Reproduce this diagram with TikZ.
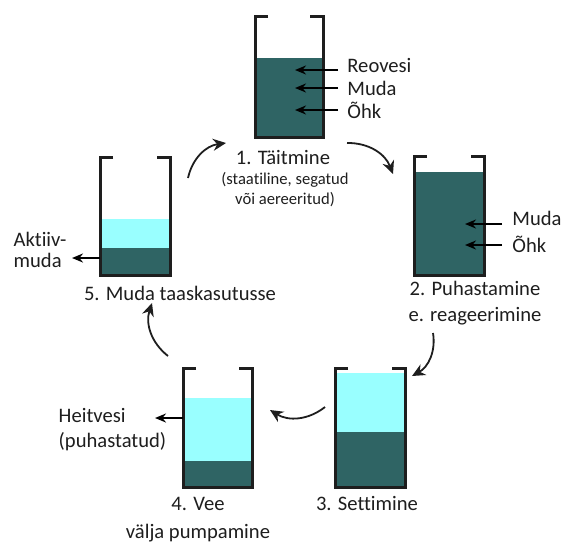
\documentclass[tikz,border=0pt]{standalone}
\usepackage{fontspec}
\setmainfont{Carlito}[Ligatures=NoCommon]
\usetikzlibrary{arrows.meta,positioning}
\definecolor{mudcol}{HTML}{2F6464}
\definecolor{watercol}{HTML}{99FFFF}
\definecolor{inkcol}{HTML}{1E1E1E}

\begin{document}
\begin{tikzpicture}[
  x=0.5pt,
  y=-0.5pt,
  font=\fontsize{10.3}{13}\selectfont,
  text=inkcol,
  wall/.style={line width=1.5pt, draw=inkcol, line join=miter},
  mud/.style={fill=mudcol},
  water/.style={fill=watercol},
  lbl/.style={inner sep=1.5pt, anchor=base west},
  stage/.style={align=center, inner sep=1pt},
  ptr/.style={-{Stealth[length=5.5pt,width=4.5pt]}, line width=1.2pt, draw=black},
  cyc/.style={-{Stealth[length=6.5pt,width=6pt]}, line width=0.9pt, draw=inkcol, bend left=35}
]
\useasboundingbox (0,0) rectangle (565,542);

% Tancul 1 - umplere (sus)
\fill[mud] (255,58) rectangle (323,137);
\draw[wall] (268,16) -- (255,16) -- (255,137) -- (323,137) -- (323,16) -- (310,16);

% Tancul 2 - aerare (dreapta)
\fill[mud] (414,172) rectangle (484,275);
\draw[wall] (427,156) -- (414,156) -- (414,275) -- (484,275) -- (484,156) -- (471,156);

% Tancul 3 - decantare (jos dreapta)
\fill[water] (335,373) rectangle (405,432);
\fill[mud] (335,432) rectangle (405,487);
\draw[wall] (348,368) -- (335,368) -- (335,487) -- (405,487) -- (405,368) -- (392,368);

% Tancul 4 - evacuare apa (jos stanga)
\fill[water] (183,398) rectangle (252,461);
\fill[mud] (183,461) rectangle (252,487);
\draw[wall] (196,368) -- (183,368) -- (183,487) -- (252,487) -- (252,368) -- (239,368);

% Tancul 5 - namol recirculat (stanga)
\fill[water] (100,219) rectangle (170,248);
\fill[mud] (100,248) rectangle (170,275);
\draw[wall] (113,157) -- (100,157) -- (100,275) -- (170,275) -- (170,157) -- (157,157);

% Etichete etape
\node[stage] (s1) at (283,157) {1. Täitmine};
\node[stage, font=\fontsize{8.3}{10}\selectfont] (s1note) at (285,190) {(staatiline, segatud\\või aereeritud)};
\node[stage] (s2) at (475,303) {2. Puhastamine\\e. reageerimine};
\node[stage] (s3) at (367,503) {3. Settimine};
\node[stage, font=\fontsize{10.3}{14}\selectfont] (s4) at (198,519.5) {4. Vee\\välja pumpamine};
\node[stage] (s5) at (180,293) {5. Muda taaskasutusse};

% Intrari / iesiri
\node[lbl] (reovesi) at (344,72) {Reovesi};
\node[lbl] (muda1) at (344,95) {Muda};
\node[lbl] (ohk1) at (344,118) {Õhk};
\node[lbl] (muda2) at (509,225) {Muda};
\node[lbl] (ohk2) at (509,252) {Õhk};
\node[stage, align=left, font=\fontsize{10.3}{10.5}\selectfont] (aktiiv) at (40,249.5) {Aktiiv-\\muda};
\node[stage, align=left, font=\fontsize{10.3}{12.5}\selectfont] (heitvesi) at (112.5,429.5) {Heitvesi\\(puhastatud)};

\coordinate (t1a) at (338,70);  \coordinate (t1ai) at (295,70);
\coordinate (t1b) at (338,88);  \coordinate (t1bi) at (295,88);
\coordinate (t1c) at (338,110); \coordinate (t1ci) at (295,110);
\coordinate (t2a) at (502,224); \coordinate (t2ai) at (465,224);
\coordinate (t2b) at (502,245); \coordinate (t2bi) at (465,245);
\coordinate (t5out) at (100,258);
\coordinate (t5tip) at (72,258);
\coordinate (t4out) at (183,418);
\coordinate (t4tip) at (155,418);

\draw[ptr] (t1a) -- (t1ai);
\draw[ptr] (t1b) -- (t1bi);
\draw[ptr] (t1c) -- (t1ci);
\draw[ptr] (t2a) -- (t2ai);
\draw[ptr] (t2b) -- (t2bi);
\draw[ptr] (t5out) -- (t5tip);
\draw[ptr] (t4out) -- (t4tip);

% Ciclul
\coordinate (c51a) at (188,178);
\coordinate (c51b) at (226,143);
\coordinate (c12a) at (347,143);
\coordinate (c12b) at (393,174);
\coordinate (c23a) at (433,333);
\coordinate (c23b) at (412,376);
\coordinate (c34a) at (325,407);
\coordinate (c34b) at (270,410);
\coordinate (c45a) at (168,356);
\coordinate (c45b) at (152,303);

\draw[cyc] (c51a) to (c51b);
\draw[cyc] (c12a) to (c12b);
\draw[cyc] (c23a) to (c23b);
\draw[cyc] (c34a) to (c34b);
\draw[cyc] (c45a) to (c45b);

\end{tikzpicture}
\end{document}
